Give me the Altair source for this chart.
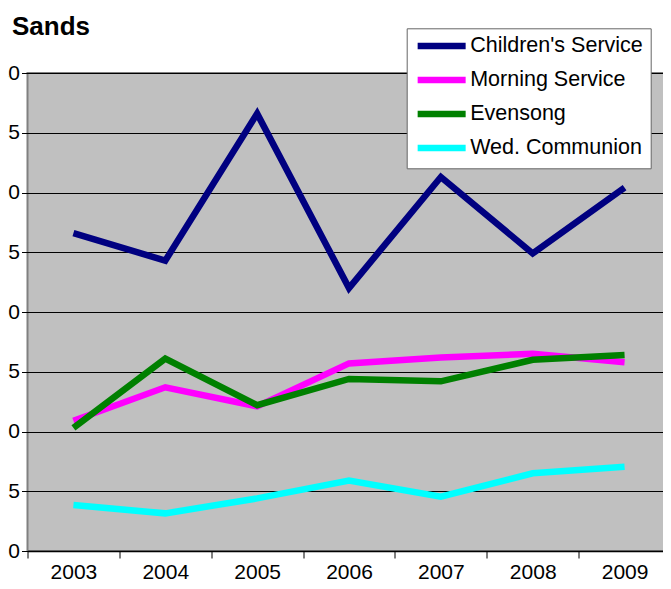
import altair as alt
import pandas as pd

years = ["2003", "2004", "2005", "2006", "2007", "2008", "2009"]
series = ["Children's Service", "Morning Service", "Evensong", "Wed. Communion"]
childrens = [26.6, 24.3, 36.6, 22.0, 31.3, 24.9, 30.4]
morning = [10.9, 13.7, 12.1, 15.7, 16.2, 16.5, 15.8]
evensong = [10.3, 16.1, 12.2, 14.4, 14.2, 16.0, 16.4]
wed_communion = [3.85, 3.15, 4.4, 5.9, 4.55, 6.5, 7.05]
colors = ["#000080", "#FF00FF", "#008000", "#00FFFF"]
y_ticks = [0, 5, 10, 15, 20, 25, 30, 35, 40]

rows = []
for s, vals in zip(series, [childrens, morning, evensong, wed_communion]):
    for yr, v in zip(years, vals):
        rows.append({"year": yr, "value": v, "series": s})
df = pd.DataFrame(rows)

FONT = "Liberation Sans"

chart = alt.Chart(df).mark_line(
    strokeWidth=6.5, strokeCap="butt", strokeJoin="miter"
).encode(
    x=alt.X(
        "year:O",
        sort=years,
        bandPosition=0.5,
        scale=alt.Scale(type="band", paddingInner=0, paddingOuter=0),
        axis=alt.Axis(
            title=None, labelAngle=0, tickBand="extent", tickSize=7,
            tickColor="black", domainColor="black", domainWidth=1.5,
            labelFont=FONT, labelFontSize=21, labelColor="black",
            labelPadding=3, grid=False,
        ),
    ),
    y=alt.Y(
        "value:Q",
        scale=alt.Scale(domain=[0, 40], nice=False),
        axis=alt.Axis(
            title=None, values=y_ticks, tickSize=6, tickColor="black",
            domain=False, grid=True, gridColor="black", gridWidth=1,
            labelFont=FONT, labelFontSize=21, labelColor="black",
            labelPadding=2, labelBaseline="middle",
        ),
    ),
    color=alt.Color(
        "series:N",
        sort=series,
        scale=alt.Scale(domain=series, range=colors),
        legend=alt.Legend(
            title=None, orient="none", legendX=379.2, legendY=-44.7,
            direction="vertical",
            fillColor="white", strokeColor="#666666", padding=7,
            symbolType="M-4,0H4", symbolSize=144, symbolStrokeWidth=6.5,
            symbolOffset=17.2,
            labelFont=FONT, labelFontSize=21.5, labelColor="black",
            labelOffset=17.8, rowPadding=7, labelLimit=400,
        ),
    ),
).properties(
    width=643,
    height=478,
    title=alt.TitleParams(
        "Sands", anchor="start", frame="group", fontSize=26, font=FONT,
        fontWeight="bold", color="black", dx=-15.5, offset=-32.7,
        baseline="alphabetic",
    ),
    autosize=alt.AutoSizeParams(type="none"),
    padding={"left": 19.5, "top": 65, "right": -8, "bottom": 30},
).configure_view(
    fill="#C0C0C0", stroke="#808080", strokeWidth=2
)

chart.save("out.html", embed_options={"renderer": "svg", "actions": False})
